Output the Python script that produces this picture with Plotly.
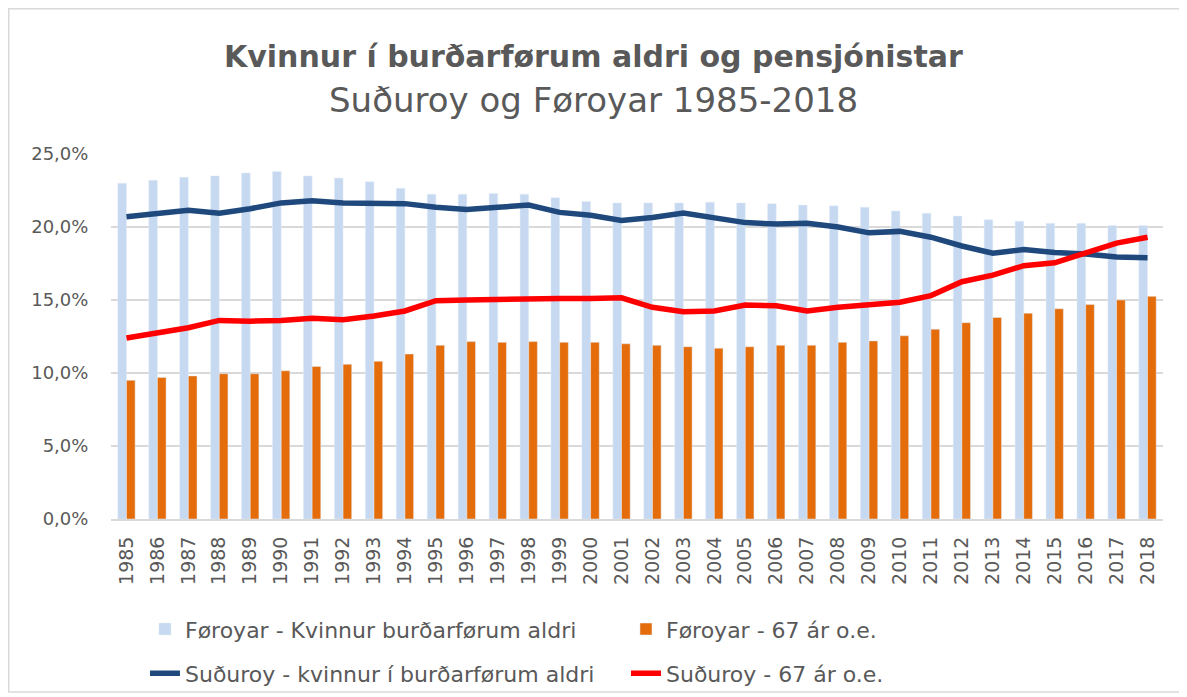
import plotly.graph_objects as go

years = [str(y) for y in range(1985, 2019)]

# Føroyar - share of women of childbearing age (%)
foroyar_kvinnur = [
    23.0, 23.2, 23.4, 23.5, 23.7, 23.8, 23.5, 23.35, 23.1, 22.65,
    22.25, 22.25, 22.3, 22.25, 22.0, 21.75, 21.65, 21.65, 21.65, 21.7,
    21.65, 21.6, 21.5, 21.45, 21.35, 21.1, 20.95, 20.75, 20.5, 20.4,
    20.25, 20.25, 20.1, 20.1,
]
# Føroyar - 67 years and older (%)
foroyar_67 = [
    9.5, 9.7, 9.8, 9.95, 9.95, 10.15, 10.45, 10.6, 10.8, 11.3,
    11.9, 12.15, 12.1, 12.15, 12.1, 12.1, 12.0, 11.9, 11.8, 11.7,
    11.8, 11.9, 11.9, 12.1, 12.2, 12.55, 13.0, 13.45, 13.8, 14.1,
    14.4, 14.7, 15.0, 15.25,
]
# Suðuroy - share of women of childbearing age (%)
suduroy_kvinnur = [
    20.7, 20.9, 21.15, 20.95, 21.25, 21.65, 21.8, 21.65, 21.6, 21.6,
    21.35, 21.2, 21.35, 21.5, 21.0, 20.8, 20.45, 20.65, 20.95, 20.6,
    20.3, 20.2, 20.25, 20.0, 19.6, 19.7, 19.3, 18.7, 18.2, 18.45,
    18.25, 18.15, 17.95, 17.9,
]
# Suðuroy - 67 years and older (%)
suduroy_67 = [
    12.4, 12.75, 13.1, 13.6, 13.55, 13.6, 13.75, 13.65, 13.9, 14.25,
    14.95, 15.0, 15.05, 15.1, 15.1, 15.1, 15.15, 14.5, 14.2, 14.25,
    14.65, 14.6, 14.25, 14.5, 14.65, 14.85, 15.3, 16.25, 16.7, 17.35,
    17.55, 18.25, 18.9, 19.3,
]

FONT = "DejaVu Sans"
GREY = "#595959"

fig = go.Figure()
fig.add_trace(go.Bar(x=years, y=foroyar_kvinnur, name="Føroyar - Kvinnur burðarførum aldri",
                     marker_color="#C6D9F1", legend="legend"))
fig.add_trace(go.Bar(x=years, y=foroyar_67, name="Føroyar - 67 ár o.e.",
                     marker_color="#E46C0A", legend="legend"))
fig.add_trace(go.Scatter(x=years, y=suduroy_kvinnur, name="Suðuroy - kvinnur í burðarførum aldri",
                         mode="lines", line=dict(color="#1F497D", width=5.5), legend="legend2"))
fig.add_trace(go.Scatter(x=years, y=suduroy_67, name="Suðuroy - 67 ár o.e.",
                         mode="lines", line=dict(color="#FF0000", width=5.5), legend="legend2"))

legend_style = dict(
    orientation="h", xanchor="left", yanchor="middle", x=0.0323,
    font=dict(family=FONT, size=22, color=GREY),
    entrywidth=436, bgcolor="rgba(0,0,0,0)",
)

# the page body has an 8px margin, so the figure is 8px smaller than the window
fig.update_layout(
    width=1179, height=689,
    margin=dict(l=103, r=24, t=146, b=178, autoexpand=False),
    paper_bgcolor="white", plot_bgcolor="white",
    barmode="group", bargap=0.44, bargroupgap=0,
    separators=",.",
    font=dict(family=FONT, color=GREY),
    hovermode=False,
    legend=dict(legend_style, y=-0.302),
    legend2=dict(legend_style, y=-0.423),
    xaxis=dict(
        type="category", tickangle=-90, showgrid=False,
        showline=True, linecolor="#D9D9D9", linewidth=2,
        tickfont=dict(family=FONT, size=19, color=GREY),
        ticks="outside", tickcolor="white", ticklen=8,
    ),
    yaxis=dict(
        range=[0, 25], dtick=5, tickformat=".1f", ticksuffix="%",
        gridcolor="#D9D9D9", gridwidth=1.5, zeroline=False, showline=False,
        tickfont=dict(family=FONT, size=18, color=GREY), ticks="outside",
        tickcolor="white", ticklen=18,
    ),
    annotations=[
        dict(text="<b>Kvinnur í burðarførum aldri og pensjónistar</b>",
             xref="paper", yref="paper", x=0.4587, y=1.266, yanchor="middle",
             showarrow=False, font=dict(family=FONT, size=30, color=GREY)),
        dict(text="Suðuroy og Føroyar 1985-2018",
             xref="paper", yref="paper", x=0.4587, y=1.148, yanchor="middle",
             showarrow=False, font=dict(family=FONT, size=34, color=GREY)),
    ],
    shapes=[
        dict(type="rect", xref="paper", yref="paper",
             x0=-0.0972, x1=1.019, y0=-0.474, y1=1.398,
             line=dict(color="#D9D9D9", width=1.5), layer="below"),
    ],
)

fig.write_html("out.html")
